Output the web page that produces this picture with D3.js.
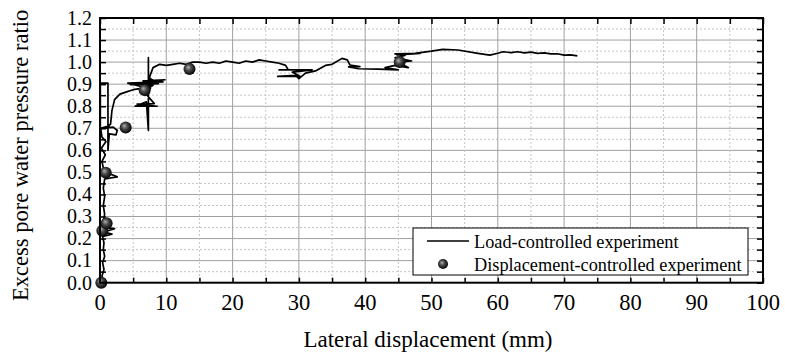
<!DOCTYPE html>
<html><head><meta charset="utf-8">
<script src="https://cdn.jsdelivr.net/npm/d3@7"></script>
<style>body{margin:0;background:#fff}svg{display:block}text{font-family:"Liberation Serif","Times New Roman","DejaVu Serif",serif}</style>
</head><body>
<script>
// ---- data ----
const xTickValues = [0,10,20,30,40,50,60,70,80,90,100];
const yTickLabels = ["0.0","0.1","0.2","0.3","0.4","0.5","0.6","0.7","0.8","0.9","1.0","1.1","1.2"];
const loadX = [0.1,0.5,0.3,0.6,0.4,0.7,0.5,0.6,0.4,1.8,0.6,2.2,0.8,1.6,0.5,0.7,0.5,0.7,0.5,0.7,2.6,0.9,0.5,0.3,0.8,0.2,0.9,0.3,0.1,2.0,2.6,2.4,1.4,1.2,1.2,0.05,0.05,1.3,1.6,
  1.8,2.2,3.0,4.0,5.0,6.0,6.8,4.2,9.5,6.5,9.8,4.6,8.8,7.3,7.3,7.3,7.0,5.3,8.6,5.6,8.2,6.8,7.2,6.2,8.0,6.6,7.6,7.5,
  8.0,9.0,10,11,12,13,14,15,16,17,18,19,20,21,22,23,24,25,26,27,28,28.4,27,32,29,30.2,26.8,29.5,30,31,32.5,34,35,36.5,37.3,37.7,39.2,37.5,39,42,45,43,44.5,46.5,44.8,47,44.5,46,44.5,48.3,44.8,47.5,50,51.7,54,57,58.8,60,60.8,62,63,64,65,66,67,68,69,70,71,72];
const loadY = [0.0,0.01,0.03,0.06,0.09,0.12,0.15,0.18,0.21,0.22,0.23,0.245,0.25,0.27,0.28,0.31,0.35,0.39,0.43,0.47,0.48,0.5,0.52,0.55,0.58,0.61,0.64,0.66,0.7,0.705,0.69,0.67,0.675,0.6,0.905,0.905,0.70,0.71,0.72,
  0.78,0.83,0.855,0.865,0.875,0.88,0.885,0.905,0.91,0.915,0.92,0.898,0.902,0.93,1.02,0.69,0.82,0.80,0.80,0.81,0.812,0.86,0.86,0.89,0.895,0.87,0.88,0.935,
  0.975,0.99,0.985,0.99,0.995,0.99,1.0,1.0,0.995,1.0,0.995,1.005,1.0,0.995,1.005,1.0,1.01,1.005,1.0,0.995,0.985,0.965,0.965,0.965,0.955,0.935,0.935,0.94,0.925,0.95,0.96,0.985,0.99,1.017,1.01,0.987,0.98,0.978,0.97,0.968,0.965,0.975,0.985,0.975,1.0,1.005,1.02,1.03,1.037,1.04,1.033,1.04,1.05,1.058,1.055,1.04,1.032,1.04,1.047,1.043,1.047,1.042,1.045,1.04,1.042,1.037,1.038,1.032,1.033,1.028];
const dispX = [0.2,0.35,1.0,0.86,3.87,6.74,13.5,45.2];
const dispY = [0.0,0.236,0.269,0.499,0.704,0.873,0.969,1.0];
const legendLabels = ["Load-controlled experiment","Displacement-controlled experiment"];
const xTitle = "Lateral displacement (mm)";
const yTitle = "Excess pore water pressure ratio";

// ---- layout ----
const W = 785, H = 358;
const L = 100, R = 763, T = 18, B = 282.7;
const svg = d3.select("body").append("svg").attr("width", W).attr("height", H);
const x = d3.scaleLinear().domain([0,100]).range([L,R]);
const y = d3.scaleLinear().domain([0,1.2]).range([B,T]);

const defs = svg.append("defs");
const g = defs.append("radialGradient").attr("id","ball").attr("cx","45%").attr("cy","45%").attr("r","55%").attr("fx","38%").attr("fy","35%");
g.append("stop").attr("offset","0%").attr("stop-color","#b0b0b0");
g.append("stop").attr("offset","45%").attr("stop-color","#4a4a4a");
g.append("stop").attr("offset","100%").attr("stop-color","#050505");
defs.append("clipPath").attr("id","clip").append("rect").attr("x",L).attr("y",T).attr("width",R-L).attr("height",B-T);

// grid
const grid = svg.append("g");
const yGrid = d3.range(1,24).map(i => i*0.05);
grid.selectAll("line.yg").data(yGrid).join("line")
  .attr("x1",L).attr("x2",R).attr("y1",d=>y(d)).attr("y2",d=>y(d))
  .attr("stroke", (d,i)=> i%2===1 ? "#a0a0a0" : "#c4c4c4")
  .attr("stroke-width",1)
  .attr("stroke-dasharray",(d,i)=> i%2===1 ? null : "2,2");
const xGrid = d3.range(1,20).map(i => i*5);
grid.selectAll("line.xg").data(xGrid).join("line")
  .attr("y1",T).attr("y2",B).attr("x1",d=>x(d)).attr("x2",d=>x(d))
  .attr("stroke", (d,i)=> i%2===1 ? "#a0a0a0" : "#c4c4c4")
  .attr("stroke-width",1)
  .attr("stroke-dasharray",(d,i)=> i%2===1 ? null : "2,2");

// axes with inward ticks
const axB = d3.axisBottom(x).tickValues(d3.range(0,101,5)).tickSize(-5).tickFormat("");
const axT = d3.axisTop(x).tickValues(d3.range(0,101,5)).tickSize(-6).tickFormat("");
const axLft = d3.axisLeft(y).tickValues(d3.range(0,25).map(i=>i*0.05)).tickSize(-6).tickFormat("");
const axRt = d3.axisRight(y).tickValues(d3.range(0,25).map(i=>i*0.05)).tickSize(-6).tickFormat("");
[[axB,`translate(0,${B})`],[axT,`translate(0,${T})`],[axLft,`translate(${L},0)`],[axRt,`translate(${R},0)`]].forEach(([a,t])=>{
  const gg = svg.append("g").attr("transform",t).call(a);
  gg.select(".domain").remove();
  gg.selectAll("line").attr("stroke","#000").attr("stroke-width",1.5);
});

// tick labels
svg.append("g").selectAll("text").data(xTickValues).join("text")
  .attr("x",d=>x(d)).attr("y",B+27).attr("text-anchor","middle")
  .style("font-size","22.5px").text(d=>d);
svg.append("g").selectAll("text").data(yTickLabels).join("text")
  .attr("x",L-8).attr("y",(d)=>y(+d)+6.8).attr("text-anchor","end")
  .style("font-size","20px").text(d=>d);

// line
const pts = loadX.map((v,i)=>[v,loadY[i]]);
svg.append("path").datum(pts).attr("clip-path","url(#clip)")
  .attr("d",d3.line().x(d=>x(d[0])).y(d=>y(d[1])))
  .attr("fill","none").attr("stroke","#000").attr("stroke-width",1.7).attr("stroke-linejoin","round");

// markers
svg.append("g").selectAll("circle").data(dispX.map((v,i)=>[v,dispY[i]])).join("circle")
  .attr("cx",d=>x(d[0])).attr("cy",d=>y(d[1])).attr("r",6).attr("fill","url(#ball)");

// frame
svg.append("rect").attr("x",L).attr("y",T).attr("width",R-L).attr("height",B-T)
  .attr("fill","none").attr("stroke","#000").attr("stroke-width",2);

// legend
const lg = svg.append("g");
lg.append("rect").attr("x",413).attr("y",228).attr("width",335).attr("height",47)
  .attr("fill","#fff").attr("stroke","#000").attr("stroke-width",1);
lg.append("line").attr("x1",427).attr("x2",469).attr("y1",241).attr("y2",241).attr("stroke","#000").attr("stroke-width",1.4);
lg.append("circle").attr("cx",443).attr("cy",264).attr("r",5).attr("fill","url(#ball)");
lg.selectAll("text").data(legendLabels).join("text")
  .attr("x",474).attr("y",(d,i)=>247.5+i*23).style("font-size","18.3px").text(d=>d);

// titles
svg.append("text").attr("x",428).attr("y",347).attr("text-anchor","middle")
  .style("font-size","23px").text(xTitle);
svg.append("text").attr("transform",`translate(28,${(T+B)/2+5}) rotate(-90)`).attr("text-anchor","middle")
  .style("font-size","22.5px").text(yTitle);
</script>
</body></html>
